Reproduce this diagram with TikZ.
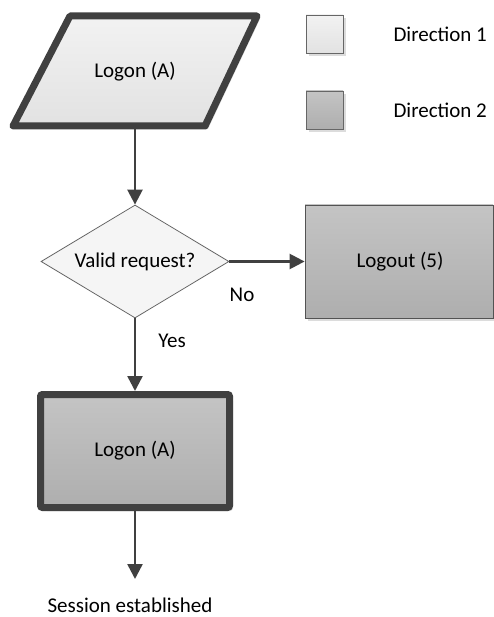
\documentclass[tikz,border=0pt]{standalone}
\usepackage{fontspec}
\setmainfont{Carlito}
\usetikzlibrary{arrows.meta,shapes.geometric}
\definecolor{edgec}{HTML}{404040}
\definecolor{lightA}{HTML}{F2F2F2}
\definecolor{lightB}{HTML}{E2E2E2}
\definecolor{darkA}{HTML}{C4C4C4}
\definecolor{darkB}{HTML}{AEAEAE}
\definecolor{shadowc}{HTML}{DCDCDC}
\tikzset{
  conn/.style={draw=edgec, line width=2.5pt, -{Triangle[width=15pt,length=15pt]}},
  lbl/.style={font=\fontsize{21}{24}\selectfont, text=black},
  lightfill/.style={top color=lightA, bottom color=lightB},
  darkfill/.style={top color=darkA, bottom color=darkB},
}
\begin{document}
\begin{tikzpicture}[x=1pt,y=-1pt]
\useasboundingbox (0,0) rectangle (494,617);
% parallelogram (Logon A, top)
\fill[shadowc] (73,19) -- (260,19) -- (208,129) -- (16,129) -- cycle;
\draw[edgec, line width=7pt, line join=round, lightfill] (70,16) -- (257,16) -- (205,126) -- (13,126) -- cycle;
\node[lbl] (logonA) at (135,72) {Logon (A)};
\coordinate (logonAbottom) at (135,129.5);
% legend
\fill[shadowc] (309,18) rectangle (346,56);
\draw[edgec!80, line width=0.8pt, lightfill] (306,15) rectangle (343,53);
\node[lbl, anchor=west] (dir1) at (390,34) {Direction 1};
\fill[shadowc] (309,94) rectangle (346,132);
\draw[edgec!80, line width=0.8pt, darkfill] (306,91) rectangle (343,129);
\node[lbl, anchor=west] (dir2) at (390,110) {Direction 2};
% diamond
\node[diamond, draw=edgec!80, line width=0.8pt, fill=white!96!black, aspect=1.664,
      minimum width=188pt, minimum height=113pt, inner sep=0pt] (valid) at (135,261.5) {};
\node[lbl] (validtxt) at (135,261.5) {Valid request?};
% logout
\fill[shadowc] (308,208) rectangle (496,321);
\node[draw=edgec!90, line width=0.8pt, darkfill, minimum width=188pt, minimum height=113pt,
      inner sep=0pt] (logout) at (399,261.5) {};
\node[lbl] (logouttxt) at (400,261.5) {Logout (5)};
% bottom box
\fill[shadowc, rounded corners=3pt] (44,398) rectangle (233,511);
\node[draw=edgec, line width=7pt, rounded corners=2pt, darkfill, minimum width=189pt,
      minimum height=113pt, inner sep=0pt] (logonB) at (135,451) {};
\node[lbl] (logonBtxt) at (135,451) {Logon (A)};
% end text
\node[lbl, inner sep=0pt] (session) at (130,605) {Session established};
\coordinate (sessiontop) at (135,579);
% labels
\node[lbl] (no) at (242,295) {No};
\node[lbl] (yes) at (172,341) {Yes};
% connectors
\draw[conn] (logonAbottom) -- (valid.north);
\draw[conn] (valid.east) -- (logout.west);
\draw[conn] (valid.south) -- (logonB.north);
\draw[conn] (logonB.south) -- (sessiontop);
\end{tikzpicture}
\end{document}
